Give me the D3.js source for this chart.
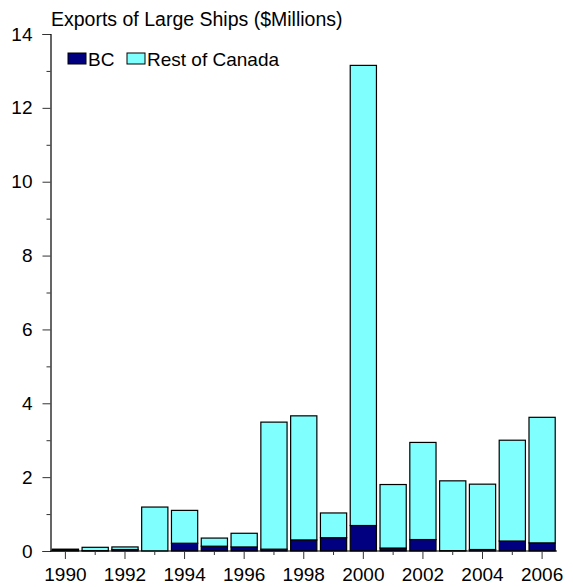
<!DOCTYPE html>
<html>
<head>
<meta charset="utf-8">
<script src="https://cdn.jsdelivr.net/npm/d3@7"></script>
<style>
  html, body { margin: 0; padding: 0; background: #fff; }
  svg { display: block; font-family: "Liberation Sans", Arial, sans-serif; }
</style>
</head>
<body>
<svg id="chart" width="573" height="587"></svg>
<script>
const years = [1990,1991,1992,1993,1994,1995,1996,1997,1998,1999,2000,2001,2002,2003,2004,2005,2006];
const bcValues =   [0.02,0.01,0.04,0.00,0.21,0.13,0.11,0.05,0.30,0.36,0.69,0.08,0.31,0.01,0.04,0.27,0.22];
const restValues = [0.03,0.09,0.07,1.19,0.89,0.22,0.37,3.44,3.36,0.67,12.46,1.72,2.63,1.89,1.77,2.73,3.40];
const seriesNames = ["BC", "Rest of Canada"];
const seriesColors = ["#000080", "#80FFFF"];
const yTicks = [0,2,4,6,8,10,12,14];
const yMinorTicks = [1,3,5,7,9,11,13];
const xLabelYears = [1990,1992,1994,1996,1998,2000,2002,2004,2006];
const title = "Exports of Large Ships ($Millions)";

const svg = d3.select("#chart");
const mLeft = 50.5, mRight = 557, mTop = 34, mBottom = 551;

const x = d3.scaleBand().domain(years).range([mLeft, mRight]).paddingInner(0.12).paddingOuter(0.06);
const y = d3.scaleLinear().domain([0, 14]).range([mBottom, mTop]);

const rows = years.map((yr, i) => ({year: yr, "BC": bcValues[i], "Rest of Canada": restValues[i]}));
const stacked = d3.stack().keys(seriesNames)(rows);

// bars
const g = svg.append("g");
stacked.forEach((s, si) => {
  g.selectAll(null).data(s).enter().append("rect")
    .attr("x", d => x(d.data.year))
    .attr("y", d => y(d[1]))
    .attr("width", x.bandwidth())
    .attr("height", d => Math.max(0, y(d[0]) - y(d[1])))
    .attr("fill", seriesColors[si])
    .attr("stroke", "#000")
    .attr("stroke-width", 1.2);
});

// y axis
const yAxisMajor = d3.axisLeft(y).tickValues(yTicks).tickSize(8).tickPadding(10).tickFormat(d3.format("d"));
const ya = svg.append("g").attr("transform", `translate(${mLeft},0)`).call(yAxisMajor);
ya.select(".domain").attr("stroke", "#000").attr("stroke-width", 1.2);
ya.selectAll(".tick line").attr("stroke", "#333");
ya.selectAll("text").attr("font-size", 19).attr("fill", "#000").attr("font-family", "Liberation Sans, Arial, sans-serif");
const yaMinor = svg.append("g").attr("transform", `translate(${mLeft},0)`)
  .call(d3.axisLeft(y).tickValues(yMinorTicks).tickSize(4).tickFormat(""));
yaMinor.select(".domain").remove();
yaMinor.selectAll(".tick line").attr("stroke", "#333");

// x axis
const xAxisMajor = d3.axisBottom(x).tickValues(xLabelYears).tickSize(8).tickPadding(9);
const xa = svg.append("g").attr("transform", `translate(0,${mBottom})`).call(xAxisMajor);
xa.select(".domain").attr("stroke", "#000").attr("stroke-width", 1.2)
  .attr("d", `M${mLeft},0H${mRight}`);
xa.selectAll(".tick line").attr("stroke", "#333");
xa.selectAll("text").attr("font-size", 19).attr("fill", "#000").attr("font-family", "Liberation Sans, Arial, sans-serif");
const xaMinor = svg.append("g").attr("transform", `translate(0,${mBottom})`)
  .call(d3.axisBottom(x).tickValues(years.filter(v => !xLabelYears.includes(v))).tickSize(4).tickFormat(""));
xaMinor.select(".domain").remove();
xaMinor.selectAll(".tick line").attr("stroke", "#333");

// title
svg.append("text").attr("x", 51).attr("y", 26).attr("font-size", 19.5).attr("fill", "#000").text(title);

// legend
const legendItems = [{x: 68, textX: 88}, {x: 127, textX: 147}];
seriesNames.forEach((name, i) => {
  svg.append("rect").attr("x", legendItems[i].x).attr("y", 53).attr("width", 18).attr("height", 11)
    .attr("fill", seriesColors[i]).attr("stroke", "#000").attr("stroke-width", 1);
  svg.append("text").attr("x", legendItems[i].textX).attr("y", 66).attr("font-size", 19).attr("fill", "#000").text(name);
});
</script>
</body>
</html>
